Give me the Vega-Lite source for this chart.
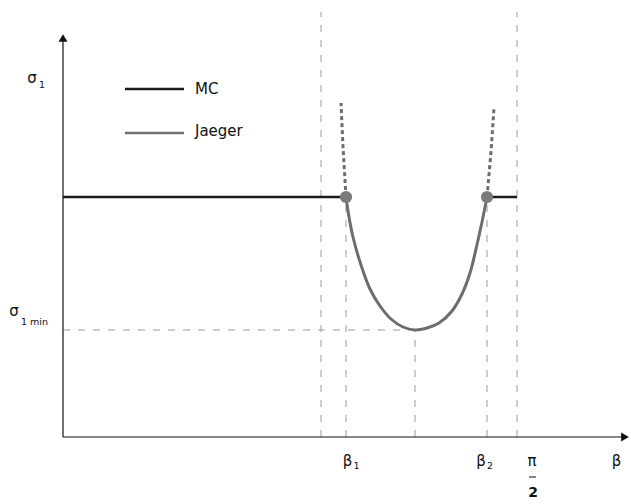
{
  "$schema": "https://vega.github.io/schema/vega-lite/v6.json",
  "width": 631,
  "height": 504,
  "autosize": {"type": "fit", "contains": "padding"},
  "padding": 0,
  "background": "white",
  "config": {"view": {"stroke": null}, "text": {"font": "DejaVu Sans"}},
  "encoding": {
    "x": {"field": "x", "type": "quantitative", "scale": {"domain": [-63, 568], "nice": false, "zero": false}, "axis": null},
    "y": {"field": "y", "type": "quantitative", "scale": {"domain": [-67, 437], "nice": false, "zero": false}, "axis": null}
  },
  "layer": [
    {
      "data": {"values": [
        {"x": 258, "x2": 258, "y": 0, "y2": 425},
        {"x": 454, "x2": 454, "y": 0, "y2": 425},
        {"x": 283, "x2": 283, "y": 0, "y2": 240},
        {"x": 352, "x2": 352, "y": 0, "y2": 107},
        {"x": 424, "x2": 424, "y": 0, "y2": 240},
        {"x": 0, "x2": 352, "y": 107, "y2": 107}
      ]},
      "mark": {"type": "rule", "color": "#9a9a9a", "strokeWidth": 1, "strokeDash": [7, 8]},
      "encoding": {"x2": {"field": "x2"}, "y2": {"field": "y2"}}
    },
    {
      "data": {"values": [
        {"x": 0, "x2": 0, "y": 0, "y2": 400},
        {"x": 0, "x2": 562, "y": 0, "y2": 0}
      ]},
      "mark": {"type": "rule", "color": "#111111", "strokeWidth": 1.2},
      "encoding": {"x2": {"field": "x2"}, "y2": {"field": "y2"}}
    },
    {
      "data": {"values": [{"x": 0, "y": 399}]},
      "mark": {"type": "point", "shape": "triangle-up", "filled": true, "color": "#111111", "size": 80, "opacity": 1}
    },
    {
      "data": {"values": [{"x": 562, "y": 0}]},
      "mark": {"type": "point", "shape": "triangle-right", "filled": true, "color": "#111111", "size": 80, "opacity": 1}
    },
    {
      "data": {"values": [
        {"x": 0, "x2": 283, "y": 240, "y2": 240},
        {"x": 424, "x2": 454, "y": 240, "y2": 240},
        {"x": 62, "x2": 121, "y": 348, "y2": 348}
      ]},
      "mark": {"type": "rule", "color": "#1a1a1a", "strokeWidth": 2.5},
      "encoding": {"x2": {"field": "x2"}, "y2": {"field": "y2"}}
    },
    {
      "data": {"values": [
        {"x": 62, "x2": 121, "y": 304, "y2": 304}
      ]},
      "mark": {"type": "rule", "color": "#717173", "strokeWidth": 2.5},
      "encoding": {"x2": {"field": "x2"}, "y2": {"field": "y2"}}
    },
    {
      "data": {"values": [
        {"i": 0, "x": 283, "y": 240},
        {"i": 1, "x": 286, "y": 220},
        {"i": 2, "x": 290, "y": 200},
        {"i": 3, "x": 298, "y": 172},
        {"i": 4, "x": 307, "y": 148},
        {"i": 5, "x": 317, "y": 131},
        {"i": 6, "x": 328, "y": 118},
        {"i": 7, "x": 340, "y": 110},
        {"i": 8, "x": 352, "y": 107},
        {"i": 9, "x": 364, "y": 109},
        {"i": 10, "x": 376, "y": 114},
        {"i": 11, "x": 389, "y": 126},
        {"i": 12, "x": 399, "y": 143},
        {"i": 13, "x": 407, "y": 164},
        {"i": 14, "x": 413, "y": 188},
        {"i": 15, "x": 419, "y": 215},
        {"i": 16, "x": 424, "y": 240}
      ]},
      "mark": {"type": "line", "color": "#6d6d6f", "strokeWidth": 3, "interpolate": "catmull-rom"},
      "encoding": {"order": {"field": "i", "type": "quantitative"}}
    },
    {
      "data": {"values": [
        {"seg": "a", "i": 0, "x": 283, "y": 240},
        {"seg": "a", "i": 1, "x": 280, "y": 290},
        {"seg": "a", "i": 2, "x": 278, "y": 334},
        {"seg": "b", "i": 0, "x": 424, "y": 240},
        {"seg": "b", "i": 1, "x": 428, "y": 285},
        {"seg": "b", "i": 2, "x": 431, "y": 329}
      ]},
      "mark": {"type": "line", "color": "#6d6d6f", "strokeWidth": 3, "strokeDash": [4, 3]},
      "encoding": {"detail": {"field": "seg"}, "order": {"field": "i", "type": "quantitative"}}
    },
    {
      "data": {"values": [{"x": 283, "y": 240}, {"x": 424, "y": 240}]},
      "mark": {"type": "point", "shape": "circle", "filled": true, "color": "#7a7a7c", "size": 150, "opacity": 1}
    },
    {
      "data": {"values": [
        {"x": 132, "y": 348, "t": "MC"},
        {"x": 132, "y": 306, "t": "Jaeger"}
      ]},
      "mark": {"type": "text", "fontSize": 15, "align": "left", "baseline": "middle", "color": "#111111"},
      "encoding": {"text": {"field": "t"}}
    },
    {
      "data": {"values": [
        {"x": -31, "y": 359, "t": "σ"},
        {"x": -49, "y": 126, "t": "σ"},
        {"x": 284.5, "y": -24, "t": "β"},
        {"x": 418, "y": -24, "t": "β"},
        {"x": 553.5, "y": -24, "t": "β"},
        {"x": 469, "y": -24, "t": "π"}
      ]},
      "mark": {"type": "text", "fontSize": 15, "align": "center", "baseline": "middle", "color": "#111111"},
      "encoding": {"text": {"field": "t"}}
    },
    {
      "data": {"values": [
        {"x": -24, "y": 352, "t": "1"},
        {"x": -42, "y": 115, "t": "1 min"},
        {"x": 290.5, "y": -29, "t": "1"},
        {"x": 424, "y": -29, "t": "2"}
      ]},
      "mark": {"type": "text", "fontSize": 9.5, "align": "left", "baseline": "middle", "color": "#111111"},
      "encoding": {"text": {"field": "t"}}
    },
    {
      "data": {"values": [{"x": 466, "x2": 473, "y": -40, "y2": -40}]},
      "mark": {"type": "rule", "color": "#111111", "strokeWidth": 1},
      "encoding": {"x2": {"field": "x2"}, "y2": {"field": "y2"}}
    },
    {
      "data": {"values": [{"x": 470, "y": -56, "t": "2"}]},
      "mark": {"type": "text", "fontSize": 14, "fontWeight": "bold", "align": "center", "baseline": "middle", "color": "#111111"},
      "encoding": {"text": {"field": "t"}}
    }
  ]
}
